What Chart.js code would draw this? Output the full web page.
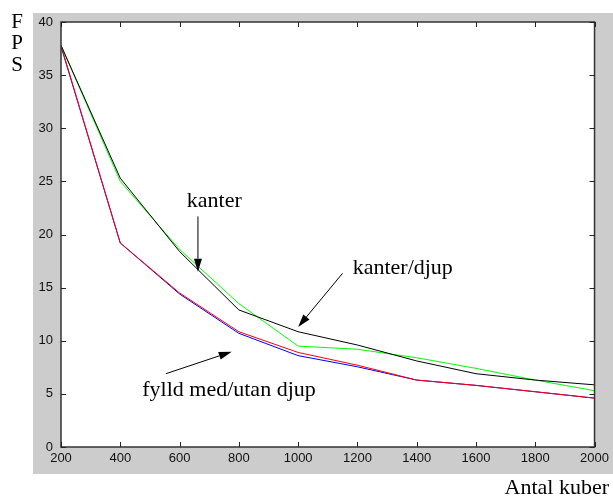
<!DOCTYPE html>
<html>
<head>
<meta charset="utf-8">
<script src="https://cdn.jsdelivr.net/npm/chart.js@4"></script>
<style>
  html, body { margin: 0; padding: 0; background: #fff; }
  #wrap { width: 613px; height: 498px; }
</style>
</head>
<body>
<div id="wrap"><canvas id="fpsChart" width="613" height="498"></canvas></div>
<script>
// Values
const kuber = [200, 400, 600, 800, 1000, 1200, 1400, 1600, 1800, 2000];
const kanterDjup = [37.8, 25.3, 18.4, 12.9, 10.85, 9.6, 8.1, 6.9, 6.3, 5.85];   // black
const kanter = [37.8, 25.0, 18.6, 13.5, 9.5, 9.2, 8.4, 7.4, 6.3, 5.3];           // green
const fylldMed = [37.8, 19.2, 14.5, 10.85, 8.9, 7.7, 6.3, 5.8, 5.2, 4.6];        // red
const fylldUtan = [37.7, 19.2, 14.4, 10.7, 8.6, 7.55, 6.3, 5.8, 5.2, 4.6];       // blue
const xRange = [200, 2000];
const yRange = [0, 40];
const xStep = 200;
const yStep = 5;

const serif = '"Liberation Serif", "Times New Roman", serif';
const sans = '"Liberation Sans", Arial, sans-serif';

function toPoints(values) {
    return kuber.map((k, i) => ({ x: k, y: values[i] }));
}

function drawArrow(ctx, x1, y1, x2, y2) {
    const ang = Math.atan2(y2 - y1, x2 - x1);
    const len = 13, half = 4;
    const bx = x2 - len * Math.cos(ang), by = y2 - len * Math.sin(ang);
    ctx.beginPath();
    ctx.moveTo(x1, y1);
    ctx.lineTo(bx, by);
    ctx.stroke();
    ctx.beginPath();
    ctx.moveTo(x2, y2);
    ctx.lineTo(bx + half * Math.sin(ang), by - half * Math.cos(ang));
    ctx.lineTo(bx - half * Math.sin(ang), by + half * Math.cos(ang));
    ctx.closePath();
    ctx.fill();
}

// Gray frame, inward ticks on all sides, annotations
const figurePlugin = {
    id: 'figure',
    beforeDraw(chart) {
        const ctx = chart.ctx, a = chart.chartArea;
        ctx.save();
        ctx.fillStyle = '#ffffff';
        ctx.fillRect(0, 0, chart.width, chart.height);
        ctx.fillStyle = '#cccccc';
        ctx.fillRect(33, 13, chart.width - 33, 461);
        ctx.fillStyle = '#ffffff';
        ctx.fillRect(a.left, a.top, a.right - a.left, a.bottom - a.top);
        ctx.restore();
    },
    afterDraw(chart) {
        const ctx = chart.ctx, a = chart.chartArea;
        const xs = chart.scales.x, ys = chart.scales.y;
        ctx.save();

        // axes box
        ctx.strokeStyle = '#333333';
        ctx.lineWidth = 1.5;
        ctx.strokeRect(a.left, a.top, a.right - a.left, a.bottom - a.top);

        // inward tick marks
        ctx.lineWidth = 1;
        ctx.strokeStyle = '#222222';
        ctx.beginPath();
        xs.ticks.forEach(t => {
            const px = Math.round(xs.getPixelForValue(t.value)) + 0.5;
            ctx.moveTo(px, a.bottom); ctx.lineTo(px, a.bottom - 5);
            ctx.moveTo(px, a.top); ctx.lineTo(px, a.top + 5);
        });
        ys.ticks.forEach(t => {
            const py = Math.round(ys.getPixelForValue(t.value)) + 0.5;
            ctx.moveTo(a.left, py); ctx.lineTo(a.left + 5, py);
            ctx.moveTo(a.right, py); ctx.lineTo(a.right - 5, py);
        });
        ctx.stroke();

        // axis titles
        ctx.fillStyle = '#000000';
        ctx.font = '21px ' + serif;
        ctx.textAlign = 'center';
        ctx.textBaseline = 'alphabetic';
        ctx.fillText('F', 17, 28);
        ctx.fillText('P', 17, 49);
        ctx.fillText('S', 17, 71);
        ctx.font = '22px ' + serif;
        ctx.textAlign = 'right';
        ctx.fillText('Antal kuber', 609, 494);

        // annotations (positions in data units)
        ctx.textAlign = 'center';
        ctx.fillText('kanter', xs.getPixelForValue(717), ys.getPixelForValue(22.6));
        ctx.textAlign = 'left';
        ctx.fillText('kanter/djup', xs.getPixelForValue(1184), ys.getPixelForValue(16.3));
        ctx.fillText('fylld med/utan djup', xs.getPixelForValue(474), ys.getPixelForValue(4.8));

        ctx.strokeStyle = '#000000';
        ctx.fillStyle = '#000000';
        ctx.lineWidth = 1;
        drawArrow(ctx, xs.getPixelForValue(662), ys.getPixelForValue(21.7),
                       xs.getPixelForValue(662), ys.getPixelForValue(16.5));
        drawArrow(ctx, xs.getPixelForValue(1150), ys.getPixelForValue(16.35),
                       xs.getPixelForValue(1000), ys.getPixelForValue(11.3));
        drawArrow(ctx, xs.getPixelForValue(554), ys.getPixelForValue(6.9),
                       xs.getPixelForValue(776), ys.getPixelForValue(8.97));
        ctx.restore();
    }
};

const ctx = document.getElementById('fpsChart').getContext('2d');
new Chart(ctx, {
    type: 'line',
    data: {
        datasets: [
            { data: toPoints(kanterDjup), borderColor: '#000000' },
            { data: toPoints(kanter), borderColor: '#00ff00' },
            { data: toPoints(fylldMed), borderColor: '#ff0000' },
            { data: toPoints(fylldUtan), borderColor: '#0000ff' }
        ]
    },
    options: {
        responsive: false,
        animation: false,
        datasets: {
            line: { borderWidth: 1, pointRadius: 0, tension: 0, fill: false }
        },
        layout: { padding: { left: 0, top: 22, right: 14, bottom: 0 } },
        plugins: {
            legend: { display: false },
            tooltip: { enabled: false }
        },
        scales: {
            x: {
                type: 'linear',
                min: xRange[0],
                max: xRange[1],
                grid: { display: false, drawTicks: false, tickLength: 0 },
                border: { display: false },
                ticks: {
                    stepSize: xStep,
                    maxRotation: 0,
                    autoSkip: false,
                    padding: 4,
                    color: '#111111',
                    font: { family: sans, size: 13 },
                    callback: v => String(v)
                },
                afterFit: s => { s.height = 51; }
            },
            y: {
                min: yRange[0],
                max: yRange[1],
                grid: { display: false, drawTicks: false, tickLength: 0 },
                border: { display: false },
                ticks: {
                    stepSize: yStep,
                    padding: 8,
                    color: '#111111',
                    font: { family: sans, size: 13 },
                    callback: v => String(v)
                },
                afterFit: s => { s.width = 61; }
            }
        }
    },
    plugins: [figurePlugin]
});
</script>
</body>
</html>
